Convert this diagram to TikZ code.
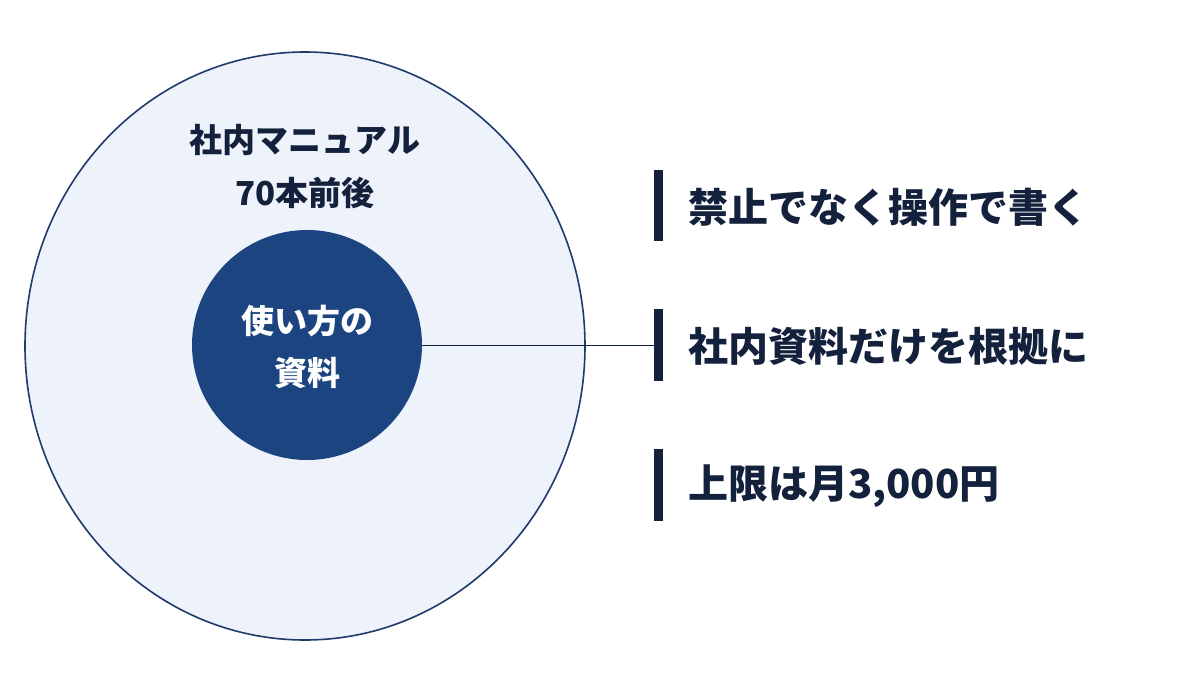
\documentclass[tikz,border=0pt]{standalone}
\usetikzlibrary{shapes.geometric}
\usepackage{fontspec}
\newfontfamily\jp{Noto Sans CJK JP}
\definecolor{edge}{HTML}{1F3A6B}
\definecolor{outerfill}{HTML}{EEF2FA}
\definecolor{innerfill}{HTML}{1B4480}
\definecolor{bar}{HTML}{14213D}
\begin{document}
\begin{tikzpicture}[x=1pt,y=-1pt,
  item/.style={anchor=west,font=\jp\bfseries\fontsize{40}{48}\selectfont,text=bar,inner sep=0},
  barst/.style={fill=bar,draw=none}]
\useasboundingbox (0,0) rectangle (1200,691);
\fill[white] (0,0) rectangle (1200,691);
\node[ellipse,draw=edge,line width=1.6pt,fill=outerfill,minimum width=560,minimum height=588,inner sep=0] (outer) at (305,346) {};
\node[align=center,font=\jp\bfseries\fontsize{33}{53}\selectfont,text=bar] (title) at (305,167) {社内マニュアル\\70本前後};
\node[circle,fill=innerfill,minimum size=230,inner sep=0] (inner) at (307,345) {};
\node[align=center,font=\jp\bfseries\fontsize{33}{52}\selectfont,text=white] (innerlabel) at (307,347) {使い方の\\資料};
\coordinate (lineend) at (655,345);
\draw[bar,line width=1pt] (inner.east) -- (lineend);
\fill[barst] (654,170) rectangle (663,241);
\fill[barst] (654,309) rectangle (663,381);
\fill[barst] (654,449) rectangle (663,521);
\node[item] (a) at (688,207) {禁止でなく操作で書く};
\node[item] (b) at (688,346) {社内資料だけを根拠に};
\node[item] (c) at (688,486) {上限は月3,000円};
\end{tikzpicture}
\end{document}
